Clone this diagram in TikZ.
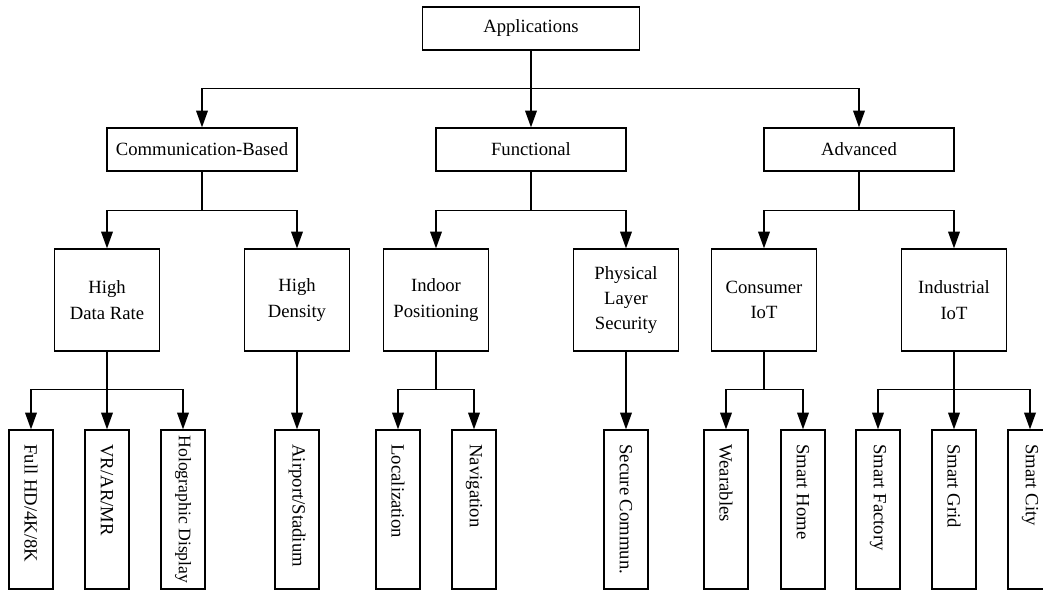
\documentclass[tikz,border=0pt]{standalone}
\usepackage{fontspec}
\setmainfont{Liberation Serif}
\usetikzlibrary{positioning, arrows.meta}

\newcommand{\leaftext}[1]{\makebox[78pt][l]{#1}}

\begin{document}
\begin{tikzpicture}[x=0.6pt, y=-0.6pt, line width=0.8pt, font=\fontsize{11.2pt}{15.2pt}\selectfont,
    box/.style={draw, align=center, inner sep=2pt},
    topbox/.style={box, minimum width=130.2pt, minimum height=25.8pt},
    catbox/.style={box, minimum width=114pt, minimum height=25.8pt},
    subbox/.style={box, minimum width=63pt, minimum height=61.2pt},
    leafbox/.style={box, rotate=-90, minimum width=95.4pt, minimum height=26.4pt},
    arr/.style={-{Triangle[length=10pt, width=7pt]}}]
    \path[use as bounding box, clip] (0,0) rectangle (1043,591);

    % Wurzel
    \node[topbox] (apps) at (531,28.5) {Applications};

    % Kategorien
    \node[catbox] (comm) at (202,149.5) {Communication-Based};
    \node[catbox] (func) at (531,149.5) {Functional};
    \node[catbox] (adv) at (859,149.5) {Advanced};

    % Unterkategorien
    \node[subbox] (hdr) at (107,300) {High\\Data Rate};
    \node[subbox] (hden) at (297,300) {High\\Density};
    \node[subbox] (indoor) at (436,300) {Indoor\\Positioning};
    \node[subbox] (phy) at (626,300) {Physical\\Layer\\Security};
    \node[subbox] (ciot) at (764,300) {Consumer\\IoT};
    \node[subbox] (iiot) at (954,300) {Industrial\\IoT};

    % Anwendungsfaelle
    \node[leafbox] (fhd) at (31,509.5) {\leaftext{Full HD/4K/8K}};
    \node[leafbox] (vr) at (107,509.5) {\leaftext{VR/AR/MR}};
    \node[leafbox, inner xsep=1pt, font=\fontsize{10.6pt}{13pt}\selectfont] (holo) at (183,509.5) {Holographic Display};
    \node[leafbox] (airport) at (297,509.5) {\leaftext{Airport/Stadium}};
    \node[leafbox] (loc) at (398,509.5) {\leaftext{Localization}};
    \node[leafbox] (nav) at (474,509.5) {\leaftext{Navigation}};
    \node[leafbox] (secure) at (626,509.5) {\leaftext{Secure Commun.}};
    \node[leafbox] (wear) at (726,509.5) {\leaftext{Wearables}};
    \node[leafbox] (shome) at (803,509.5) {\leaftext{Smart Home}};
    \node[leafbox] (sfactory) at (878,509.5) {\leaftext{Smart Factory}};
    \node[leafbox] (sgrid) at (954,509.5) {\leaftext{Smart Grid}};
    \node[leafbox] (scity) at (1030,509.5) {\leaftext{Smart City}};

    % Pfeile
    \draw[arr] (apps.south) -- (func.north);
    \draw[arr] (apps.south) -- ++(0,38) -| (comm.north);
    \draw[arr] (apps.south) -- ++(0,38) -| (adv.north);

    \draw[arr] (comm.south) -- ++(0,39) -| (hdr.north);
    \draw[arr] (comm.south) -- ++(0,39) -| (hden.north);
    \draw[arr] (func.south) -- ++(0,39) -| (indoor.north);
    \draw[arr] (func.south) -- ++(0,39) -| (phy.north);
    \draw[arr] (adv.south) -- ++(0,39) -| (ciot.north);
    \draw[arr] (adv.south) -- ++(0,39) -| (iiot.north);

    \draw[arr] (hdr.south) -- ++(0,38) -| (fhd.west);
    \draw[arr] (hdr.south) -- (vr.west);
    \draw[arr] (hdr.south) -- ++(0,38) -| (holo.west);
    \draw[arr] (hden.south) -- (airport.west);
    \draw[arr] (indoor.south) -- ++(0,38) -| (loc.west);
    \draw[arr] (indoor.south) -- ++(0,38) -| (nav.west);
    \draw[arr] (phy.south) -- (secure.west);
    \draw[arr] (ciot.south) -- ++(0,38) -| (wear.west);
    \draw[arr] (ciot.south) -- ++(0,38) -| (shome.west);
    \draw[arr] (iiot.south) -- ++(0,38) -| (sfactory.west);
    \draw[arr] (iiot.south) -- (sgrid.west);
    \draw[arr] (iiot.south) -- ++(0,38) -| (scity.west);
\end{tikzpicture}
\end{document}
